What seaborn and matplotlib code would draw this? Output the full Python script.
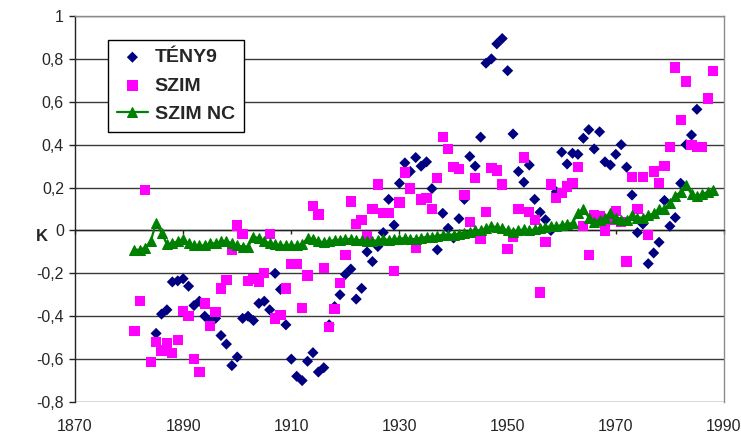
import numpy as np
import seaborn as sns
import matplotlib
matplotlib.use("Agg")
import matplotlib.pyplot as plt
from matplotlib.ticker import FuncFormatter

# Series values (K anomalies)
years_teny = list(range(1885, 1986))
teny9 = [
    -0.48, -0.39, -0.37, -0.24, -0.235, -0.225, -0.26, -0.35, -0.33, -0.40,   # 1885-1894
    -0.42, -0.41, -0.49, -0.53, -0.63, -0.59, -0.41, -0.40, -0.42, -0.34,     # 1895-1904
    -0.33, -0.37, -0.20, -0.275, -0.44, -0.60, -0.68, -0.70, -0.61, -0.57,    # 1905-1914
    -0.66, -0.64, -0.44, -0.355, -0.30, -0.205, -0.18, -0.32, -0.27, -0.10,   # 1915-1924
    -0.145, -0.075, -0.01, 0.145, 0.025, 0.22, 0.315, 0.275, 0.34, 0.30,      # 1925-1934
    0.32, 0.195, -0.09, 0.08, 0.01, -0.035, 0.055, 0.145, 0.345, 0.30,        # 1935-1944
    0.435, 0.78, 0.80, 0.87, 0.895, 0.745, 0.45, 0.275, 0.225, 0.305,         # 1945-1954
    0.145, 0.085, 0.05, 0.0, 0.18, 0.365, 0.31, 0.36, 0.355, 0.43,            # 1955-1964
    0.47, 0.38, 0.46, 0.32, 0.305, 0.355, 0.40, 0.295, 0.165, -0.01,          # 1965-1974
    0.03, -0.155, -0.105, -0.055, 0.14, 0.02, 0.06, 0.22, 0.40, 0.445,        # 1975-1984
    0.565,                                                                    # 1985
]

years_szim = list(range(1881, 1989))
szim = [
    -0.47, -0.33, 0.19, -0.615, -0.52, -0.56, -0.525, -0.57, -0.51, -0.375,   # 1881-1890
    -0.40, -0.60, -0.66, -0.34, -0.445, -0.38, -0.27, -0.23, -0.09, 0.023,    # 1891-1900
    -0.015, -0.235, -0.225, -0.24, -0.20, -0.015, -0.41, -0.395, -0.27, -0.155,  # 1901-1910
    -0.155, -0.36, -0.21, 0.115, 0.075, -0.175, -0.45, -0.365, -0.245, -0.115,  # 1911-1920
    0.135, 0.03, 0.05, -0.025, 0.10, 0.215, 0.08, 0.08, -0.19, 0.13,          # 1921-1930
    0.27, 0.195, -0.08, 0.145, 0.15, 0.10, 0.245, 0.435, 0.38, 0.295,         # 1931-1940
    0.285, 0.165, 0.04, 0.245, -0.04, 0.085, 0.29, 0.28, 0.215, -0.085,       # 1941-1950
    -0.03, 0.10, 0.34, 0.085, 0.05, -0.29, -0.055, 0.215, 0.15, 0.175,        # 1951-1960
    0.205, 0.22, 0.295, 0.02, -0.115, 0.07, 0.065, 0.0, 0.05, 0.09,           # 1961-1970
    0.04, -0.145, 0.25, 0.10, 0.25, -0.02, 0.275, 0.22, 0.30, 0.39,           # 1971-1980
    0.76, 0.515, 0.695, 0.40, 0.39, 0.39, 0.615, 0.745,                       # 1981-1988
]

szim_nc = [
    -0.09, -0.09, -0.08, -0.05, 0.035, -0.01, -0.065, -0.06, -0.05, -0.04,    # 1881-1890
    -0.06, -0.07, -0.07, -0.07, -0.06, -0.06, -0.05, -0.05, -0.06, -0.07,     # 1891-1900
    -0.075, -0.075, -0.03, -0.035, -0.05, -0.06, -0.065, -0.07, -0.07, -0.07, # 1901-1910
    -0.07, -0.065, -0.035, -0.04, -0.05, -0.055, -0.05, -0.045, -0.045, -0.04,  # 1911-1920
    -0.04, -0.045, -0.045, -0.05, -0.05, -0.045, -0.04, -0.045, -0.04, -0.04,   # 1921-1930
    -0.035, -0.04, -0.04, -0.035, -0.03, -0.03, -0.025, -0.02, -0.02, -0.02,    # 1931-1940
    -0.015, -0.01, -0.005, 0.0, 0.0, 0.01, 0.02, 0.015, 0.01, 0.0,            # 1941-1950
    -0.005, 0.0, 0.005, 0.0, 0.005, 0.01, 0.015, 0.02, 0.02, 0.025,           # 1951-1960
    0.03, 0.035, 0.08, 0.10, 0.06, 0.04, 0.05, 0.06, 0.08, 0.06,              # 1961-1970
    0.05, 0.05, 0.07, 0.06, 0.06, 0.07, 0.08, 0.10, 0.10, 0.13,               # 1971-1980
    0.16, 0.18, 0.21, 0.17, 0.16, 0.17, 0.18, 0.19,                           # 1981-1988
]

x_ticks = [1870, 1890, 1910, 1930, 1950, 1970, 1990]
y_ticks = [-0.8, -0.6, -0.4, -0.2, 0.0, 0.2, 0.4, 0.6, 0.8, 1.0]

sns.set_style("white")
plt.rcParams['font.family'] = ['Liberation Sans', 'DejaVu Sans']

fig = plt.figure(figsize=(7.41, 4.34), dpi=100)
ax = fig.add_axes([0.1012, 0.0737, 0.8758, 0.8894])

sns.scatterplot(x=years_teny, y=teny9, marker='D', s=32, color='#000080',
                edgecolor='none', label='TÉNY9', ax=ax, zorder=3)
sns.scatterplot(x=years_szim, y=szim, marker='s', s=55, color='#FF00FF',
                edgecolor='none', label='SZIM', ax=ax, zorder=4)
sns.lineplot(x=years_szim, y=szim_nc, marker='^', markersize=7.5, color='#008000',
             markeredgecolor='#008000', linewidth=1.6, label='SZIM NC', ax=ax, zorder=5)

ax.set_xlim(1870, 1990)
ax.set_ylim(-0.8, 1.0)
ax.set_yticks(y_ticks)
ax.yaxis.set_major_formatter(FuncFormatter(lambda v, p: ('%g' % round(v, 1)).replace('.', ',')))
ax.set_xticks(x_ticks)

ax.yaxis.grid(True, color='#3a3a3a', linewidth=1.0)
ax.xaxis.grid(False)
ax.set_axisbelow(True)

# horizontal axis crosses at zero, labels stay at the bottom
ax.spines['bottom'].set_position(('data', 0))
ax.spines['bottom'].set_color('#222222')
ax.spines['left'].set_color('#222222')
for side in ['top', 'right']:
    ax.spines[side].set_color('#8c8c8c')
for side in ax.spines:
    ax.spines[side].set_linewidth(1.0)
ax.tick_params(axis='x', bottom=True, direction='out', length=3, width=1,
               color='#222222', labelbottom=False)
ax.tick_params(axis='y', left=True, direction='out', length=4, width=1,
               color='#222222', labelsize=11.5, pad=4)

sec = ax.secondary_xaxis('bottom')
sec.set_xticks(x_ticks)
sec.tick_params(length=0, labelsize=11.5, pad=12)
sec.spines['bottom'].set_visible(False)

ax.set_xlabel('')
ax.set_ylabel('K', rotation=0, fontsize=12, fontweight='bold', va='center', ha='center')
ax.yaxis.set_label_coords(-0.051, 0.43)

handles, labels = ax.get_legend_handles_labels()
leg = ax.legend(handles, labels, loc='upper left', bbox_to_anchor=(0.051, 0.938),
                borderaxespad=0, frameon=True, fancybox=False, framealpha=1,
                edgecolor='black', prop={'weight': 'bold', 'size': 14},
                handlelength=1.6, handletextpad=0.35, borderpad=0.45, labelspacing=0.55)
leg.get_frame().set_linewidth(1.0)

fig.savefig('out.png', dpi=100)
